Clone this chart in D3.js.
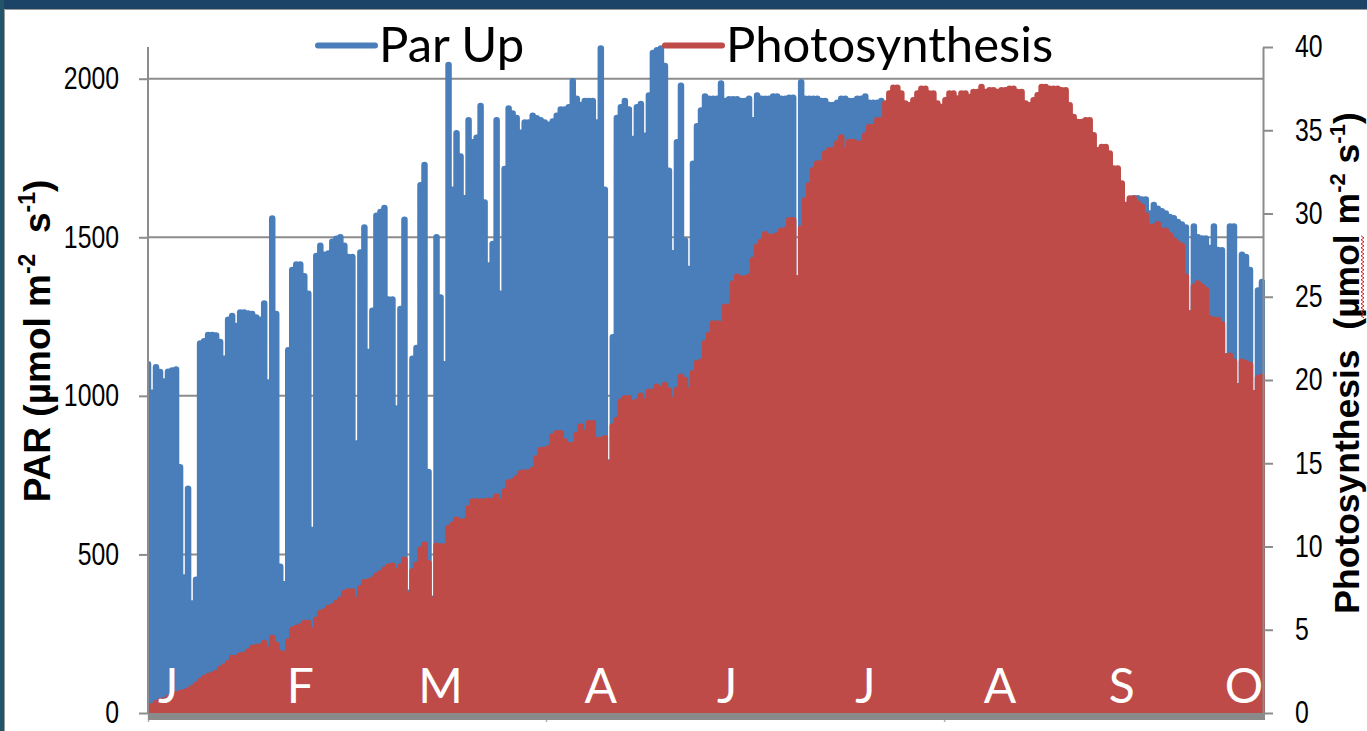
<!DOCTYPE html>
<html>
<head>
<meta charset="utf-8">
<script src="https://cdn.jsdelivr.net/npm/d3@7"></script>
<style>
  body { margin: 0; background: #fff; }
  svg { display: block; }
  text { white-space: pre; }
</style>
</head>
<body>
<svg id="chart" width="1367" height="731"></svg>
<script>
// Daily peak PAR above the canopy (µmol m-2 s-1), one value per day step
const parUp = [
  1100,1010,1090,1075,1045,1076,1080,1083,775,427,
  707,345,420,1165,1172,1192,1192,1190,1170,1117,
  1240,1252,1220,1263,1263,1260,1258,1247,1240,1291,
  1042,1559,1258,461,406,1144,1397,1414,1414,1377,
  1322,577,1441,1473,1445,1449,1486,1495,1500,1473,
  1438,1438,850,1452,1531,1138,1268,1568,1580,1592,
  1304,1304,960,1274,1555,379,1117,1151,1664,1728,
  760,360,1500,1310,1100,2043,1650,1828,1755,1623,
  1869,1800,1814,1914,1610,1411,1479,1869,1322,1715,
  1906,1890,1876,1830,1862,1862,1883,1875,1869,1862,
  1855,1865,1883,1903,1903,1910,1992,1937,1917,1930,
  1930,1930,1862,2095,1650,790,1185,1876,1910,1930,
  1903,1810,1910,1920,1820,1947,2081,2090,2095,2040,
  1710,1450,1800,1978,1490,1400,1732,1850,1900,1944,
  1937,1937,1937,1985,1930,1935,1935,1935,1930,1930,
  1937,1869,1947,1937,1937,1937,1944,1944,1937,1937,
  1940,1940,1370,1989,1937,1937,1937,1937,1930,1930,
  1917,1917,1924,1937,1937,1930,1930,1937,1937,1944,
  1924,1924,1924,1930,1860,1865,1870,1860,1855,1850,
  1850,1860,1865,1860,1855,1850,1845,1850,1855,1850,
  1855,1860,1860,1855,1860,1865,1860,1855,1860,1865,
  1860,1855,1860,1865,1870,1860,1855,1850,1850,1855,
  1860,1865,1865,1860,1855,1860,1860,1855,1860,1860,
  1860,1830,1810,1810,1810,1800,1760,1720,1730,1730,
  1700,1670,1650,1600,1602,1610,1623,1623,1619,1619,
  1575,1602,1590,1582,1575,1564,1560,1548,1540,1531,
  1260,1534,1500,1496,1496,1466,1534,1460,1459,1125,
  1534,1534,1030,1445,1438,1397,1000,1332,1359
];

// Daily peak canopy photosynthesis (µmol m-2 s-1)
const photosynthesis = [
  0.2,0.4,0.6,0.7,0.75,0.9,1.1,1.1,1.2,1.25,
  1.35,1.5,1.7,1.9,2.1,2.2,2.3,2.4,2.65,2.8,
  3.0,3.3,3.3,3.45,3.5,3.7,3.9,3.95,4.0,4.2,
  3.8,4.5,4.1,3.6,3.55,4.3,5.0,5.1,5.2,5.4,
  5.4,4.95,5.6,6.0,6.1,6.3,6.4,6.6,6.8,7.2,
  7.3,7.3,6.8,7.5,7.85,7.9,8.0,8.25,8.4,8.6,
  8.8,8.85,8.5,8.8,9.2,7.1,8.5,8.9,9.8,10.1,
  9.0,6.8,10.05,10.0,10.0,11.1,11.3,11.6,11.5,11.5,
  12.3,12.7,12.7,12.7,12.7,12.75,12.75,13.0,12.7,13.3,
  13.85,13.9,14.1,14.4,14.45,14.45,14.6,15.3,15.8,15.8,
  15.9,16.6,16.8,16.8,16.3,16.1,16.1,16.7,17.2,16.8,
  17.4,17.4,16.4,16.4,16.5,15.0,17.2,17.6,18.7,18.9,
  18.9,18.6,18.7,19.06,18.7,19.3,19.3,19.6,19.45,19.7,
  19.37,18.8,19.4,20.2,20.0,19.37,20.4,21.0,21.1,22.2,
  22.7,23.4,23.4,23.35,24.4,24.4,25.8,26.2,26.1,26.1,
  26.2,27.2,28.0,28.3,28.75,28.6,28.6,28.7,28.96,29.0,
  29.6,29.6,26.1,29.1,30.8,31.7,32.6,33.0,33.0,33.6,
  33.8,33.8,34.2,34.56,33.8,34.3,34.3,34.2,34.2,34.7,
  35.2,35.2,35.6,35.6,36.6,37.2,37.56,37.56,37.2,36.6,
  36.5,36.8,37.2,37.5,37.5,37.2,37.2,36.6,36.4,36.8,
  37.2,37.2,36.9,37.2,37.2,37.0,37.3,37.3,37.6,37.3,
  37.4,37.4,37.3,37.4,37.4,37.5,37.5,37.3,37.3,36.6,
  36.5,36.8,37.1,37.6,37.6,37.5,37.5,37.5,37.4,37.4,
  36.5,35.8,35.5,35.5,35.6,35.6,34.7,33.8,34.0,34.0,
  33.6,32.7,32.7,31.8,30.5,30.9,30.9,30.6,30.4,29.9,
  29.2,29.2,29.35,28.96,28.96,28.7,28.4,28.2,28.05,26.2,
  24.0,25.6,25.8,25.6,25.4,23.7,23.6,23.6,23.35,21.4,
  21.45,21.1,19.6,21.1,21.0,20.9,19.2,20.1,20.2
];

const parTicks = [0, 500, 1000, 1500, 2000];
const photoTicks = [0, 5, 10, 15, 20, 25, 30, 35, 40];
const monthLabels = ["J", "F", "M", "A", "J", "J", "A", "S", "O"];
const monthAt = [5, 38, 73, 113, 144.5, 179, 212.6, 243, 273.5];   // day-step index of each label
const minorTickAt = [0, 99.33, 198.67];

const svg = d3.select("#chart");
const W = 1367, H = 731;
const plot = { left: 148, right: 1262, top: 47, bottom: 713 };
const GREY = "#8c8c8c";
const BLUE = "#4a7ebb";
const RED = "#be4b48";

const x = d3.scaleLinear().domain([0, parUp.length - 1]).range([plot.left, plot.right]);
const yPar = d3.scaleLinear().domain([0, 2100]).range([plot.bottom, plot.top]);
const yPhoto = d3.scaleLinear().domain([0, 40]).range([plot.bottom, plot.top]);

// slide frame
svg.append("rect").attr("x", 0).attr("y", 0).attr("width", W).attr("height", H).attr("fill", "#fff");
svg.append("rect").attr("x", 0).attr("y", 0).attr("width", W).attr("height", 9).attr("fill", "#1b4467");
svg.append("rect").attr("x", 0).attr("y", 0).attr("width", 4).attr("height", H).attr("fill", "#22546a");
svg.append("line").attr("x1", 4.5).attr("x2", W).attr("y1", 9.5).attr("y2", 9.5).attr("stroke", "#9a9a9a").attr("stroke-width", 1);
svg.append("line").attr("x1", 4.5).attr("x2", 4.5).attr("y1", 9.5).attr("y2", H).attr("stroke", "#9a9a9a").attr("stroke-width", 1);

// horizontal gridlines
svg.append("g").selectAll("line").data(parTicks.filter(d => d > 0)).join("line")
  .attr("x1", plot.left).attr("x2", plot.right + 1)
  .attr("y1", d => yPar(d)).attr("y2", d => yPar(d))
  .attr("stroke", GREY).attr("stroke-width", 2);

// series: each day step drawn as a thick rounded stroke from zero to its peak
svg.append("clipPath").attr("id", "plotClip").append("rect")
  .attr("x", plot.left).attr("y", 0).attr("width", plot.right - plot.left + 3).attr("height", plot.bottom);

function columns(values, y) {
  return values.map((v, i) => `M${x(i)},${y(0) + 4}V${y(v)}`).join("");
}
const series = svg.append("g").attr("clip-path", "url(#plotClip)");
series.append("path").attr("d", columns(parUp, yPar))
  .attr("fill", "none").attr("stroke", BLUE).attr("stroke-width", 6.5).attr("stroke-linecap", "round");
series.append("path").attr("d", columns(photosynthesis, yPhoto))
  .attr("fill", "none").attr("stroke", RED).attr("stroke-width", 6.5).attr("stroke-linecap", "round");

// axes with condensed tick numerals
const tickFont = '"Liberation Sans", Arial, sans-serif';
const narrow = 0.8;
const gL = svg.append("g").attr("transform", `translate(${plot.left},0)`)
  .call(d3.axisLeft(yPar).tickValues(parTicks).tickFormat(d3.format("d"))
    .tickSize(9).tickSizeOuter(0).tickPadding(20));
gL.select(".domain").attr("d", `M0,${plot.top}V${plot.bottom}`);
const gR = svg.append("g").attr("transform", `translate(${plot.right + 1},0)`)
  .call(d3.axisRight(yPhoto).tickValues(photoTicks).tickFormat(d3.format("d"))
    .tickSize(10).tickSizeOuter(0).tickPadding(22));
for (const g of [gL, gR]) {
  g.select(".domain").attr("stroke", GREY).attr("stroke-width", 2);
  g.selectAll(".tick line").attr("stroke", GREY).attr("stroke-width", 2);
  g.selectAll(".tick text").attr("fill", "#000").attr("font-family", tickFont)
    .attr("font-size", 31)
    .each(function () {
      const t = d3.select(this);
      t.attr("x", +t.attr("x") / narrow).attr("transform", `scale(${narrow},1)`);
    });
}

// bottom axis band with minor ticks
const gB = svg.append("g").attr("transform", `translate(0,${plot.bottom})`)
  .call(d3.axisBottom(x).tickValues(minorTickAt).tickSize(9).tickFormat(""));
gB.select(".domain").remove();
gB.selectAll(".tick line").attr("stroke", "#b0b0b0").attr("stroke-width", 1.5);
svg.append("line").attr("x1", plot.left).attr("x2", plot.right + 3)
  .attr("y1", plot.bottom + 3.5).attr("y2", plot.bottom + 3.5)
  .attr("stroke", "#8a8a8a").attr("stroke-width", 7);

// month letters inside the plot
svg.append("g").selectAll("text").data(monthLabels).join("text")
  .attr("x", (d, i) => x(monthAt[i])).attr("y", 703)
  .attr("text-anchor", "middle").attr("fill", "#fff")
  .attr("font-family", "Lato, 'Open Sans', sans-serif").attr("font-size", 48)
  .text(d => d);

// legend
const legend = [
  { name: "Par Up", color: BLUE, x0: 318 },
  { name: "Photosynthesis", color: RED, x0: 665 }
];
const lg = svg.append("g").selectAll("g").data(legend).join("g");
lg.append("line").attr("x1", d => d.x0).attr("x2", d => d.x0 + 57)
  .attr("y1", 45.5).attr("y2", 45.5)
  .attr("stroke", d => d.color).attr("stroke-width", 6).attr("stroke-linecap", "round");
lg.append("text").attr("x", d => d.x0 + 61).attr("y", 62)
  .attr("font-family", "Lato, 'Open Sans', sans-serif").attr("font-size", 49).attr("fill", "#000")
  .text(d => d.name);

// axis titles
function unitTitle(g, lead, gap, size) {
  const t = g.append("text").attr("text-anchor", "middle")
    .attr("font-family", "'Liberation Sans', Arial, sans-serif").attr("font-weight", "bold")
    .attr("font-size", size).attr("fill", "#000");
  const sup = Math.round(size * 0.62), lift = Math.round(size * 0.4);
  t.append("tspan").text(lead + "(µmol m");
  t.append("tspan").attr("dy", -lift).attr("font-size", sup).text("-2");
  t.append("tspan").attr("dy", lift).text(gap + "s");
  t.append("tspan").attr("dy", -lift).attr("font-size", sup).text("-1");
  t.append("tspan").attr("dy", lift).text(")");
  return t;
}
const leftTitle = svg.append("g").attr("transform", "translate(50,341) rotate(-90)");
unitTitle(leftTitle, "PAR ", "  ", 37);
const rightTitleG = svg.append("g").attr("transform", "translate(1359,363) rotate(-90)");
const rightTitle = unitTitle(rightTitleG, "Photosynthesis  ", " ", 35.5);

// spell-check squiggle under the unit word of the right title
{
  const node = rightTitle.node();
  const full = node.textContent;
  const k = full.indexOf("µmol");
  const u0 = node.getStartPositionOfChar(k).x;
  const u1 = node.getEndPositionOfChar(k + 3).x;
  const pts = [];
  for (let u = u0, j = 0; u <= u1; u += 2, j++) pts.push([u, j % 2 ? 2 : 5]);
  rightTitleG.append("path").attr("d", d3.line()(pts))
    .attr("fill", "none").attr("stroke", "#e01b1b").attr("stroke-width", 1);
}
</script>
</body>
</html>
